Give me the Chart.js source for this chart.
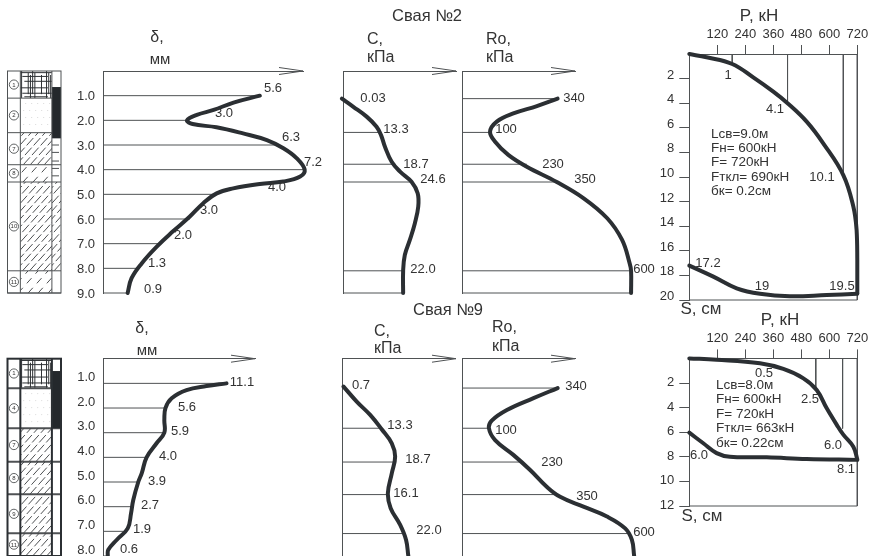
<!DOCTYPE html>
<html><head><meta charset="utf-8">
<style>html,body{margin:0;padding:0;background:#fff}#w{position:relative;width:870px;height:556px;overflow:hidden}canvas{position:absolute;left:0;top:0}</style>
<script src="https://cdn.jsdelivr.net/npm/chart.js@4"></script>
</head><body><div id="w"></div>
<script>
// ---------- data: pile No 2 ----------
const d1Depth=[1,1.28,1.58,1.78,2,2.15,2.28,2.53,2.8,3.13,3.54,4,4.28,4.48,4.58,4.76,4.96,5.36,5.9,6.5,7.12,7.8,8.4,9];
const d1Val=[5.6,4.66,3.95,3.35,3,3.2,4.05,5,5.85,6.44,6.92,7.2,7.04,6.44,5.6,4.65,4.06,3.58,3.1,2.5,1.92,1.38,1.02,.88];
const d1GridDepth=[1,2,3,4,5,6,7,8,9];
const d1GridVal=[5.6,3,6.3,7.2,4.06,3.1,2,1.3,.88];
const d1Labels=['5.6','3.0','6.3','7.2','4.0','3.0','2.0','1.3','0.9'];
const c1Depth=[1.12,1.45,1.85,2.26,2.6,3.07,3.68,4.08,4.49,4.96,5.5,6.17,6.85,7.46,8.1,9];
const c1Val=[-.4,3.7,8.45,12,13.6,15,17.4,20.4,24.5,26.7,26.9,25.7,23.9,22.1,21.5,21.5];
const c1GridDepth=[2.49,3.78,4.5,8.1,9];
const c1GridVal=[13.3,18.7,24.6,21.5,21.5];
const c1Labels=['0.03','13.3','18.7','24.6','22.0'];
const r1Depth=[1.12,1.42,1.72,2.05,2.46,2.87,3.4,3.88,4.5,5.16,5.97,6.85,7.8,8.1,9];
const r1Val=[340,266,182,123,99,117,164,230,337,433,517,570,597,602,602];
const r1GridDepth=[1.12,2.49,3.78,4.5,8.1,9];
const r1GridVal=[340,100,230,340,600,600];
const r1Labels=['340','100','230','350','600'];
const p1LoadP=[0,74,184,274,360,421,503,574,660,703,717,720,720];
const p1LoadS=[0,.27,.81,1.9,3.06,4,5.5,7.26,9.84,12.4,14.3,16.75,19.45];
const p1UnloadP=[720,589,431,303,203,103,0];
const p1UnloadS=[19.5,19.6,19.7,19.5,19.05,18.1,17.2];
const p1DropP=[184,421,660,720];
const p1DropS=[.85,4,9.9,20];
const p1Labels=['1','4.1','10.1','17.2','19','19.5'];
const p1Notes=['Lсв=9.0м','Fн= 600кН','F= 720кН','Fткл= 690кН','бк= 0.2см'];
// ---------- data: pile No 9 ----------
const d2Depth=[1,1.11,1.27,1.6,2,2.48,3,3.43,4,4.65,5,5.73,6.27,6.88,7.35,7.75,8];
const d2Val=[11.1,9.3,7.5,6.16,5.6,5.5,5.5,4.8,3.9,3.46,3.15,2.7,2.5,2.2,1.2,.45,.4];
const d2GridDepth=[1,2,3,4,5,6,7,8];
const d2GridVal=[11.1,5.6,5.5,3.9,3.15,2.6,2,.4];
const d2Labels=['11.1','5.6','5.9','4.0','3.9','2.7','1.9','0.6'];
const c2Depth=[1.13,1.74,2.28,2.86,3.43,3.97,4.65,5.46,6.06,6.74,7.35,8];
const c2Val=[.3,5,9.8,13.9,17.5,18.7,17.5,16.1,17.1,20.5,22.6,23.4];
const c2GridDepth=[2.82,4.19,5.51,7.09];
const c2GridVal=[13.3,18.7,16.1,22];
const c2Labels=['0.7','13.3','18.7','16.1','22.0'];
const r2Depth=[1.19,1.6,2.08,2.51,2.82,3.3,3.9,4.51,5.19,5.6,6,6.4,6.88,7.35,8];
const r2Val=[340,254,159,105,95,117,182,242,301,349,432,516,581,605,613];
const r2GridDepth=[1.19,2.82,4.19,5.51,7.09];
const r2GridVal=[340,95,215,340,600];
const r2Labels=['340','100','230','350','600'];
const p2LoadP=[0,117,303,403,489,546,589,632,660,703,720];
const p2LoadS=[0,.1,.4,.86,1.62,2.57,4.06,5.4,6.2,7.18,8.2];
const p2UnloadP=[720,503,332,174,117,60,0];
const p2UnloadS=[8.25,8.18,8.04,8,7.7,6.9,6.04];
const p2DropP=[542,657,720];
const p2DropS=[2.4,5.7,12];
const p2Labels=['0.5','2.5','6.0','6.0','8.1'];
const p2Notes=['Lсв=8.0м','Fн= 600кН','F= 720кН','Fткл= 663кН','бк= 0.22см'];
// ---------- soil layers ----------
const soil1Depth=[0,1.1,2.5,3.8,4.5,8.1,9];
const soil1Nums=['1','2','7','8','10','11'];
const soil1Fill=['grid','sand','loam','sparse','loam','sparse'];
const soil2Depth=[0,1.2,2.82,4.18,5.5,7.08,8];
const soil2Nums=['1','4','7','8','9','11'];
const soil2Fill=['grid','sand','loam','loam','loam','loam'];
const pile1=[.65,2.73];
const pile2=[.5,2.82];
const pTicks=['120','240','360','480','600','720'];

// ---------- layout / style ----------
const INK='#2b2f33',LINE='#4f5254',TEXT='#333';
const F='"Liberation Sans",Arial,sans-serif';
const W=870,H=556;
const host=document.getElementById('w');
const zip=(xs,ys)=>xs.map((x,i)=>({x,y:ys[i]}));
const fixed=(w,h)=>s=>{if(w!==null)s.width=w;if(h!==null)s.height=h;s.paddingLeft=s.paddingRight=s.paddingTop=s.paddingBottom=0;};
const textPlugin={id:'txt',afterDraw(c){const items=c.options.plugins.txt.items||[];const x=c.ctx;x.save();x.fillStyle=TEXT;
  items.forEach(t=>{x.font=(t[4]||13)+'px '+F;x.textAlign=t[3]||'center';x.textBaseline='middle';x.fillText(t[0],t[1],t[2]);});x.restore();}};
const arrowPlugin={id:'arrow',afterDraw(c){if(!c.options.plugins.arrow.on)return;const a=c.chartArea,x=c.ctx;x.save();x.strokeStyle=LINE;x.lineWidth=1;x.beginPath();
  x.moveTo(a.right-24,a.top-3.5);x.lineTo(a.right,a.top);x.lineTo(a.right-24,a.top+3.5);x.stroke();x.restore();}};
function mk(plugins,config){const c=document.createElement('canvas');c.width=W;c.height=H;c.style.width=W+'px';c.style.height=H+'px';host.appendChild(c);
  config.options=Object.assign({responsive:false,animation:false,devicePixelRatio:1,events:[]},config.options);config.plugins=plugins;return new Chart(c,config);}
const curveDs=(pts)=>({data:pts,showLine:true,borderColor:INK,borderWidth:4,pointRadius:0,tension:.4,clip:false,borderCapStyle:'round',borderJoinStyle:'round',fill:false});
const lineDs=(pts,col,w)=>({data:pts,showLine:true,borderColor:col||LINE,borderWidth:w||1,pointRadius:0,tension:0,clip:false,fill:false});

function depthPanel(o){
  const [x0,y0,x1,y1]=o.rect, ticksOn=!!o.tickOffset||o.tickOffset===0;
  const datasets=[curveDs(zip(o.val,o.depth))];
  o.gridDepth.forEach((d,i)=>datasets.push(lineDs([{x:0,y:d},{x:o.gridVal[i],y:d}])));
  mk([textPlugin,arrowPlugin],{type:'scatter',data:{datasets},options:{
    layout:{padding:{left:x0-(ticksOn?30:0),top:y0,right:W-x1,bottom:H-y1}},
    plugins:{legend:{display:false},tooltip:{enabled:false},txt:{items:o.texts},arrow:{on:true}},
    scales:{
      x:{type:'linear',position:'top',min:0,max:o.xMax,ticks:{display:false},grid:{display:false},border:{color:LINE,width:1},afterFit:fixed(null,0)},
      y:{type:'linear',position:'left',reverse:true,min:0,max:o.yMax,border:{color:LINE,width:1},afterFit:fixed(ticksOn?30:0,null),grid:{display:false,drawTicks:false},
        ticks:{display:ticksOn,stepSize:1,autoSkip:false,padding:8,labelOffset:o.tickOffset||0,color:TEXT,font:{family:F,size:13},callback:v=>v===0?'':v.toFixed(1)}}
    }}});
}
function loadPanel(o){
  const [x0,y0,x1,y1]=o.rect;
  const datasets=[curveDs(zip(o.lp,o.ls)),curveDs(zip(o.up,o.us))];
  o.dropP.forEach((p,i)=>datasets.push(lineDs([{x:p,y:0},{x:p,y:o.dropS[i]}])));
  datasets.push(lineDs([{x:0,y:o.sMax},{x:720,y:o.sMax}]));
  const tickCol=c=>(c.tick&&c.tick.value===0)?'rgba(0,0,0,0)':LINE;
  mk([textPlugin],{type:'scatter',data:{datasets},options:{
    layout:{padding:{left:x0-40,top:y0-30,right:W-x1,bottom:H-y1}},
    plugins:{legend:{display:false},tooltip:{enabled:false},txt:{items:o.texts}},
    scales:{
      x:{type:'linear',position:'top',min:0,max:720,afterFit:fixed(null,30),border:{color:LINE,width:1},
        grid:{display:true,drawOnChartArea:false,drawTicks:true,tickLength:9,tickColor:tickCol},
        afterBuildTicks:s=>{s.ticks=[{value:0}].concat(pTicks.map(t=>({value:+t})));},
        ticks:{autoSkip:false,maxRotation:0,padding:3,color:TEXT,font:{family:F,size:13},callback:v=>v===0?'':String(v)}},
      y:{type:'linear',position:'left',reverse:true,min:0,max:o.sMax,afterFit:fixed(40,null),border:{color:LINE,width:1},
        grid:{display:true,drawOnChartArea:false,drawTicks:true,tickLength:10,tickColor:tickCol},
        ticks:{stepSize:2,autoSkip:false,padding:5,labelOffset:o.tickOffset,color:TEXT,font:{family:F,size:13},callback:v=>v===0?'':String(v)}}
    }}});
}
const soilPlugin={id:'soil',afterDraw(c){
  const o=c.options.plugins.soil,x=c.ctx,X=c.scales.x,Y=c.scales.y;
  const a=X.getPixelForValue(0),b=X.getPixelForValue(.24),m=X.getPixelForValue(.83),e=X.getPixelForValue(1);
  const py=Y.getPixelForValue.bind(Y);
  x.save();x.lineCap='butt';
  const hatch=(l,t,r,bt,step,dash,w)=>{x.save();x.beginPath();x.rect(l,t,r-l,bt-t);x.clip();x.strokeStyle='#3a3d40';x.lineWidth=w||.9;x.setLineDash(dash);
    for(let k=l-(bt-t);k<r+(bt-t);k+=step){x.beginPath();x.moveTo(k,bt);x.lineTo(k+(bt-t)*.9,t);x.stroke();}x.restore();};
  o.depth.slice(0,-1).forEach((d,i)=>{const t=py(d),bt=py(o.depth[i+1]),f=o.fill[i];
    if(f==='grid'){x.save();x.beginPath();x.rect(b,t,m-b,bt-t);x.clip();x.strokeStyle='#2f3235';x.lineWidth=1;
      [.04,.25,.32,.39,.46,.67,.83,.9,.96].forEach((q,j)=>{const px=b+(m-b)*q;x.beginPath();x.moveTo(px,t+(j%3)*2);x.lineTo(px,bt-(j%2)*4);x.stroke();});
      [.06,.2,.38,.62,.82,.95].forEach((q,j)=>{const py2=t+(bt-t)*q;x.beginPath();x.moveTo(b+(j%3)*2,py2);x.lineTo(m-(j%2)*4,py2);x.stroke();});x.restore();}
    if(f==='sand'){x.fillStyle='#c4c4c4';for(let yy=t+5;yy<bt-2;yy+=7)for(let xx=b+3+((yy|0)%2)*2;xx<m-1;xx+=6)x.fillRect(xx,yy,.8,.8);}
    if(f==='loam')hatch(b,t,m,bt,7,[10,3]);
    if(f==='sparse')hatch(b,t,m,bt,10,[7,6]);
    if(o.rightHatch&&o.rightHatch[0]===i)hatch(m,t,e,bt,7,[10,3]);
    x.strokeStyle=LINE;x.lineWidth=o.w;x.beginPath();x.moveTo(a,bt);x.lineTo(e,bt);x.stroke();
    const cy=(t+bt)/2+o.numShift;x.beginPath();x.lineWidth=.9;x.arc((a+b)/2,cy,4.6,0,7);x.stroke();
    x.fillStyle=TEXT;x.font='6px '+F;x.textAlign='center';x.textBaseline='middle';x.fillText(o.nums[i],(a+b)/2,cy+.3);
  });
  if(o.tickRows){x.strokeStyle=LINE;x.lineWidth=1;o.tickRows.forEach(d=>{x.beginPath();x.moveTo(m,py(d));x.lineTo(e-2,py(d));x.stroke();});}
  x.fillStyle='#24282c';x.fillRect(m,py(o.pile[0]),e-m,py(o.pile[1])-py(o.pile[0]));
  x.strokeStyle=o.w>1.5?'#2b2f33':LINE;x.lineWidth=o.w;
  x.strokeRect(a,py(0),e-a,py(o.depth[o.depth.length-1])-py(0));
  [b,m].forEach(q=>{x.beginPath();x.moveTo(q,py(0));x.lineTo(q,py(o.depth[o.depth.length-1]));x.stroke();});
  x.restore();
}};
function soilPanel(rect,yMax,opts){
  mk([soilPlugin],{type:'scatter',data:{datasets:[{data:zip(opts.depth.map(()=>0),opts.depth),pointRadius:0}]},options:{
    layout:{padding:{left:rect[0],top:rect[1],right:W-rect[2],bottom:H-rect[3]}},
    plugins:{legend:{display:false},tooltip:{enabled:false},soil:opts},
    scales:{x:{type:'linear',display:false,min:0,max:1,afterFit:fixed(null,0)},y:{type:'linear',display:false,reverse:true,min:0,max:yMax,afterFit:fixed(0,null)}}}});
}
const put=(labels,pos,size)=>labels.map((t,i)=>[t,pos[i][0],pos[i][1],'center',size||13]);
const notes=(lines,x,ys)=>lines.map((t,i)=>[t,x,ys[i],'left',13.5]);

// ---------- top row ----------
soilPanel([7.5,71,61,293],9,{depth:soil1Depth,nums:soil1Nums,fill:soil1Fill,pile:pile1,w:1,numShift:0,rightHatch:[4],tickRows:[3,3.3,3.65,3.95,4.25]});
depthPanel({rect:[103,71,303,293],xMax:7.14,yMax:9,tickOffset:1,depth:d1Depth,val:d1Val,gridDepth:d1GridDepth,gridVal:d1GridVal,
  texts:put(d1Labels,[[273,88],[224,113],[291,137],[313,162],[277,187],[209,210],[183,235],[157,263],[153,289]]).concat([['δ,',157,38,'center',16],['мм',160,60,'center',15]])});
depthPanel({rect:[343,71,456,293],xMax:40.4,yMax:9,depth:c1Depth,val:c1Val,gridDepth:c1GridDepth,gridVal:c1GridVal,
  texts:put(c1Labels,[[373,98],[396,129],[416,164],[433,179],[423,269]]).concat([['Свая №2',427,16,'center',16.5],['С,',367,40,'left',16],['кПа',367,58,'left',16]])});
depthPanel({rect:[462.3,71,575,293],xMax:402,yMax:9,depth:r1Depth,val:r1Val,gridDepth:r1GridDepth,gridVal:r1GridVal,
  texts:put(r1Labels,[[574,98],[506,129],[553,164],[585,179],[644,269]]).concat([['Ro,',486,40,'left',16],['кПа',486,58,'left',16]])});
loadPanel({rect:[689.3,54,857.3,300],sMax:20,tickOffset:-3.5,lp:p1LoadP,ls:p1LoadS,up:p1UnloadP,us:p1UnloadS,dropP:p1DropP,dropS:p1DropS,
  texts:put(p1Labels,[[728,75],[775,109],[822,177],[708,263],[762,286],[842,286]]).concat(notes(p1Notes,711,[134,148,162,177,191]),
   [['P, кН',759,16,'center',17],['S, см',701,309,'center',17]])});
// ---------- bottom row ----------
soilPanel([7.5,358.7,61,556],8,{depth:soil2Depth,nums:soil2Nums,fill:soil2Fill,pile:pile2,w:2,numShift:0,rightHatch:null,tickRows:null});
depthPanel({rect:[103.3,358.7,255,556],xMax:13.67,yMax:8,tickOffset:-6,depth:d2Depth,val:d2Val,gridDepth:d2GridDepth,gridVal:d2GridVal,
  texts:put(d2Labels,[[242,382],[187,407],[180,431],[168,456],[157,481],[150,505],[142,529],[129,549]]).concat([['δ,',142,329,'center',16],['мм',147,351,'center',15]])});
depthPanel({rect:[342.7,358.7,456,556],xMax:40.4,yMax:8,depth:c2Depth,val:c2Val,gridDepth:c2GridDepth,gridVal:c2GridVal,
  texts:put(c2Labels,[[361,385],[400,425],[418,459],[406,493],[429,530]]).concat([['Свая №9',448,310,'center',16.5],['С,',374,332,'left',16],['кПа',374,349,'left',16]])});
depthPanel({rect:[462.3,358.7,575,556],xMax:402,yMax:8,depth:r2Depth,val:r2Val,gridDepth:r2GridDepth,gridVal:r2GridVal,
  texts:put(r2Labels,[[576,386],[506,430],[552,462],[587,496],[644,532]]).concat([['Ro,',492,328,'left',16],['кПа',492,347,'left',16]])});
loadPanel({rect:[689.3,358.4,857.3,506],sMax:12,tickOffset:-.5,lp:p2LoadP,ls:p2LoadS,up:p2UnloadP,us:p2UnloadS,dropP:p2DropP,dropS:p2DropS,
  texts:put(p2Labels,[[764,373],[810,399],[833,445],[699,455],[846,469]]).concat(notes(p2Notes,716,[385,399,414,428,443]),
   [['P, кН',780,320,'center',17],['S, см',702,516,'center',17]])});
</script></body></html>
